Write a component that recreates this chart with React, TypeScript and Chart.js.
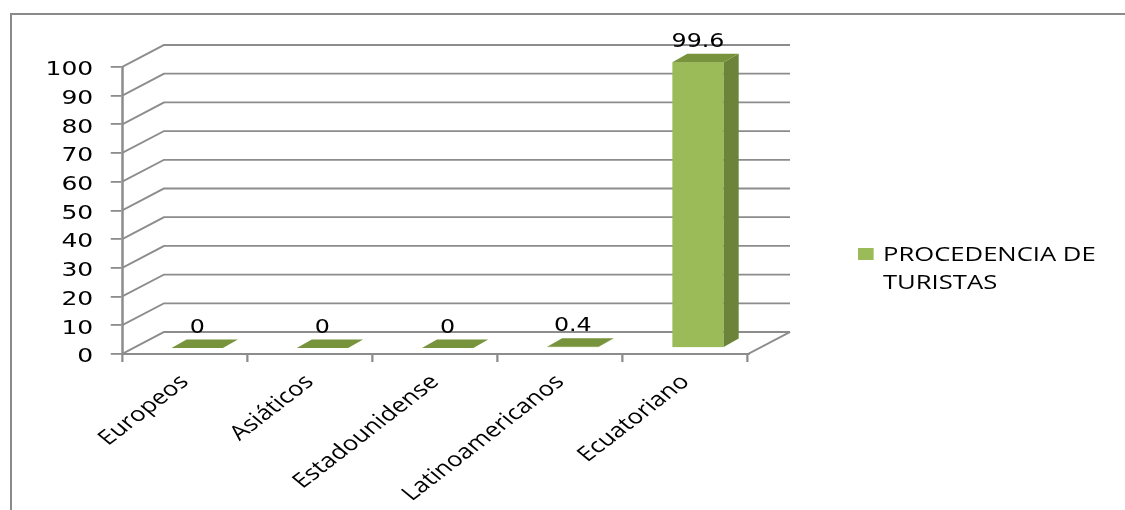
import React, { useEffect, useRef } from 'react';
import { Chart, registerables } from 'chart.js';

Chart.register(...registerables);

// Data
const categories = ['Europeos', 'Asiáticos', 'Estadounidense', 'Latinoamericanos', 'Ecuatoriano'];
const turistas = [0, 0, 0, 0.4, 99.6];
const seriesLabel = 'PROCEDENCIA DE TURISTAS';
const legendLines = ['PROCEDENCIA DE', 'TURISTAS'];
const yMin = 0;
const yMax = 100;
const yStep = 10;

// Canvas and drawing geometry
const W = 1125;
const H = 510;
const SX = 1.25; // horizontal scale applied to the whole drawing
const PLOT_LEFT = 97.6;
const PLOT_RIGHT = 598.4;
const PLOT_TOP = 67;
const PLOT_BOTTOM = 354;
const WALL = { dx: 33.6, dy: -22 }; // depth of the left wall / floor
const BAR_SHIFT = { dx: 10.1, dy: -6 }; // bar front face behind the front plane
const BAR_DEPTH = { dx: 12, dy: -8.5 };

const GRID = '#8c8c8c';
const FRONT = '#9BBB59';
const SIDE = '#6C8439';
const TOPFACE = '#77933C';
const TEXT = '#000000';

const stretchPlugin = {
  id: 'stretch',
  beforeDraw(chart: any) {
    const ctx = chart.ctx;
    ctx.save();
    ctx.strokeStyle = '#8a8a8a';
    ctx.lineWidth = 2;
    ctx.beginPath();
    ctx.moveTo(11, H);
    ctx.lineTo(11, 14);
    ctx.lineTo(W, 14);
    ctx.stroke();
    ctx.restore();
    ctx.save();
    ctx.setTransform(SX, 0, 0, 1, 0, 0);
  },
  afterDraw(chart: any) {
    chart.ctx.restore();
  },
};

const wallPlugin = {
  id: 'walls3d',
  beforeDatasetsDraw(chart: any) {
    const ctx = chart.ctx;
    const { left, right, bottom } = chart.chartArea;
    const ys = chart.scales.y;
    ctx.save();
    ctx.strokeStyle = GRID;
    ctx.lineWidth = 1.8;
    ys.ticks.forEach((t: any) => {
      const py = ys.getPixelForValue(t.value);
      ctx.beginPath();
      ctx.moveTo(left, py);
      ctx.lineTo(left + WALL.dx, py + WALL.dy);
      ctx.lineTo(right + WALL.dx, py + WALL.dy);
      ctx.stroke();
    });
    ctx.beginPath();
    ctx.moveTo(right, bottom);
    ctx.lineTo(right + WALL.dx, bottom + WALL.dy);
    ctx.stroke();
    ctx.restore();
  },
  beforeDatasetDraw(chart: any, args: any) {
    const ctx = chart.ctx;
    const values = chart.data.datasets[args.index].data;
    ctx.save();
    args.meta.data.forEach((bar: any, i: number) => {
      const { x, y, base, width } = bar.getProps(['x', 'y', 'base', 'width'], true);
      const l = x - width / 2 + BAR_SHIFT.dx;
      const r = x + width / 2 + BAR_SHIFT.dx;
      const t = y + BAR_SHIFT.dy;
      const b = base + BAR_SHIFT.dy;
      // front
      ctx.fillStyle = FRONT;
      ctx.fillRect(l, t, r - l, b - t);
      // side
      ctx.fillStyle = SIDE;
      ctx.beginPath();
      ctx.moveTo(r, t);
      ctx.lineTo(r + BAR_DEPTH.dx, t + BAR_DEPTH.dy);
      ctx.lineTo(r + BAR_DEPTH.dx, b + BAR_DEPTH.dy);
      ctx.lineTo(r, b);
      ctx.closePath();
      ctx.fill();
      // top
      ctx.fillStyle = TOPFACE;
      ctx.beginPath();
      ctx.moveTo(l, t);
      ctx.lineTo(l + BAR_DEPTH.dx, t + BAR_DEPTH.dy);
      ctx.lineTo(r + BAR_DEPTH.dx, t + BAR_DEPTH.dy);
      ctx.lineTo(r, t);
      ctx.closePath();
      ctx.fill();
      // value label
      ctx.fillStyle = TEXT;
      ctx.font = '19px "DejaVu Sans"';
      ctx.textAlign = 'center';
      ctx.textBaseline = 'alphabetic';
      ctx.fillText(String(values[i]), (l + r) / 2, t + BAR_DEPTH.dy - 7);
    });
    ctx.restore();
    return false;
  },
  afterDatasetsDraw(chart: any) {
    const ctx = chart.ctx;
    const ds = chart.data.datasets[0];
    ctx.save();
    ctx.fillStyle = ds.backgroundColor;
    ctx.fillRect(686.4, 248, 12.5, 12);
    ctx.fillStyle = TEXT;
    ctx.font = '20.5px "Open Sans"';
    ctx.textAlign = 'left';
    ctx.textBaseline = 'alphabetic';
    legendLines.forEach((line, i) => {
      ctx.fillText(line, 706.4, 260.5 + i * 28.5);
    });
    ctx.restore();
  },
};

export default function App() {
  const canvasRef = useRef<HTMLCanvasElement | null>(null);

  useEffect(() => {
    if (!canvasRef.current) return;
    const chart = new Chart(canvasRef.current, {
      type: 'bar',
      data: {
        labels: categories,
        datasets: [
          {
            label: seriesLabel,
            data: turistas,
            backgroundColor: FRONT,
            barPercentage: 0.41,
            categoryPercentage: 1,
          },
        ],
      },
      options: {
        responsive: false,
        animation: false,
        devicePixelRatio: 1,
        events: [],
        layout: {
          padding: { left: 0, top: PLOT_TOP, right: W - PLOT_RIGHT, bottom: 0 },
        },
        plugins: {
          legend: { display: false },
          tooltip: { enabled: false },
          title: { display: false },
        },
        scales: {
          x: {
            grid: {
              display: true,
              drawOnChartArea: false,
              drawTicks: true,
              tickLength: 8,
              color: GRID,
              lineWidth: 1.8,
              offset: true,
            },
            border: { display: true, color: GRID, width: 2 },
            ticks: {
              autoSkip: false,
              minRotation: 44,
              maxRotation: 44,
              padding: 8,
              color: TEXT,
              font: { family: 'Open Sans', size: 20.5 },
            },
            afterFit: (scale: any) => {
              scale.height = H - PLOT_BOTTOM;
              scale.paddingLeft = 0;
              scale.paddingRight = 0;
            },
          },
          y: {
            min: yMin,
            max: yMax,
            grid: {
              display: true,
              drawOnChartArea: false,
              drawTicks: true,
              tickLength: 9,
              color: GRID,
              lineWidth: 1.8,
            },
            border: { display: true, color: GRID, width: 2 },
            ticks: {
              stepSize: yStep,
              padding: 14,
              labelOffset: 3,
              color: TEXT,
              font: { family: 'DejaVu Sans', size: 20 },
            },
            afterFit: (scale: any) => {
              scale.width = PLOT_LEFT;
              scale.paddingTop = 0;
              scale.paddingBottom = 0;
            },
          },
        },
      },
      plugins: [stretchPlugin, wallPlugin],
    });
    return () => chart.destroy();
  }, []);

  return (
    <div style={{ position: 'absolute', left: 0, top: 0, width: W, height: H, background: '#fff' }}>
      <canvas ref={canvasRef} width={W} height={H} style={{ width: W + 'px', height: H + 'px', display: 'block' }} />
    </div>
  );
}
